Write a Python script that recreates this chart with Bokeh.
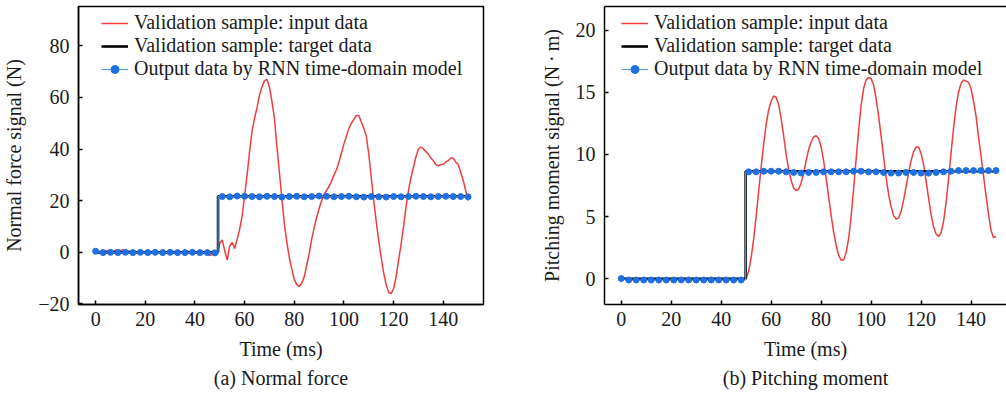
from bokeh.plotting import figure
from bokeh.layouts import row
from bokeh.models import Range1d, Legend, LegendItem, Title, FixedTicker, LinearAxis
from bokeh.embed import file_html
from bokeh.resources import INLINE

# ---------------- data ----------------
time_ms = list(range(151))
marker_time = list(range(0, 151, 3))

force_input = [
    0.3, 0.5, 0.2, 0.6, 0.4, 0.7, 0.5, 0.3, 0.8, 1.0,
    0.7, 0.9, 0.6, 0.4, 0.5, 0.2, 0.3, 0.1, 0.4, 0.3,
    0.2, 0.5, 0.3, 0.1, 0.4, 0.2, 0.3, 0.5, 0.2, 0.1,
    0.3, 0.4, 0.2, 0.0, 0.3, 0.1, 0.2, 0.4, 0.1, 0.0,
    0.2, -0.1, 0.1, 0.0, -0.2, -0.6, -1.2, -0.8, -1.1, -0.4,
    3.5, 4.8, 0.5, -3.0, 2.5, 3.8, 1.5, 5.0, 9.0, 14.0,
    22, 30, 39, 47, 52, 56, 61, 64, 66.5, 67,
    64, 58.5, 52, 41, 31, 21, 11, 4, -2, -6.5,
    -10.5, -12.5, -13.2, -12, -9.5, -5, -0.5, 5, 9.5, 13.5,
    17, 20, 22.5, 24, 25.5, 27.5, 30, 32, 35, 38.5,
    42, 45, 48, 50, 51.5, 53, 53, 50.5, 48, 45,
    38, 29, 20, 12, 4.5, -2, -8, -12.5, -15.5, -16,
    -14, -9.5, -3, 3, 10, 17.5, 24, 29, 33, 37,
    40, 40.8, 40, 39, 38, 36.5, 35.5, 34, 33.5, 34,
    34, 35, 35.5, 36.5, 36.5, 35, 34, 31, 28, 24,
    20,
]

moment_input = [
    0.0, -0.05, 0.0, -0.05, -0.1, -0.05, 0.0, -0.05, -0.1, -0.05,
    0.0, -0.05, -0.1, -0.05, 0.0, -0.05, -0.1, -0.05, 0.0, -0.05,
    -0.1, -0.05, 0.0, -0.05, -0.1, -0.05, 0.0, -0.05, -0.1, -0.05,
    0.0, -0.05, -0.1, -0.05, 0.0, -0.05, -0.1, -0.05, 0.0, -0.05,
    -0.1, -0.05, 0.0, -0.05, -0.1, -0.05, 0.0, -0.05, -0.1, -0.05,
    0.0, 0.6, 1.7, 3.2, 5.0, 7.0, 9.0, 10.8, 12.4, 13.6,
    14.3, 14.7, 14.6, 14.0, 12.9, 11.5, 10.0, 8.8, 7.9, 7.3,
    7.1, 7.2, 7.7, 8.5, 9.5, 10.4, 11.0, 11.4, 11.5, 11.3,
    10.6, 9.5, 8.1, 6.6, 5.1, 3.8, 2.7, 1.9, 1.5, 1.5,
    2.1, 3.2, 5.0, 7.2, 9.6, 11.9, 13.9, 15.3, 16.0, 16.2,
    16.1, 15.6, 14.5, 13.1, 11.5, 9.8, 8.2, 6.8, 5.8, 5.1,
    4.8, 4.9, 5.4, 6.3, 7.4, 8.5, 9.5, 10.2, 10.6, 10.6,
    10.1, 9.2, 7.9, 6.5, 5.2, 4.2, 3.6, 3.4, 3.7, 4.6,
    6.1, 8.0, 10.1, 12.1, 13.8, 15.0, 15.7, 16.0, 15.9, 15.8,
    15.3, 14.3, 13.1, 11.4, 9.9, 8.3, 6.7, 5.2, 3.9, 3.3,
    3.4,
]

force_output = [
    0.4, -0.1, 0.0, -0.1, 0.0, -0.1, 0.0, -0.1, 0.0, -0.1,
    0.0, -0.1, -0.1, 0.0, -0.1, -0.1, -0.2,
    21.6, 21.5, 21.8, 21.7, 21.6, 21.5, 21.7, 21.6, 21.4, 21.6,
    21.7, 21.5, 21.6, 21.8, 21.7, 21.5, 21.6, 21.7, 21.5, 21.4,
    21.6, 21.5, 21.4, 21.6, 21.5, 21.6, 21.7, 21.6, 21.5, 21.6,
    21.7, 21.6, 21.6, 21.5,
]

moment_output = [
    0.02, -0.1, -0.1, -0.1, -0.1, -0.1, -0.1, -0.1, -0.1, -0.1,
    -0.1, -0.1, -0.1, -0.1, -0.1, -0.1, -0.1,
    8.6, 8.6, 8.65, 8.65, 8.65, 8.6, 8.55, 8.5, 8.55, 8.55,
    8.6, 8.6, 8.6, 8.6, 8.65, 8.65, 8.6, 8.6, 8.55, 8.5,
    8.5, 8.55, 8.55, 8.5, 8.5, 8.55, 8.6, 8.65, 8.7, 8.7,
    8.7, 8.7, 8.7, 8.7,
]

force_step_time = 49.3
force_target_level = 21.7
moment_step_time = 49.8
moment_target_level = 8.65

x_ticks = [0, 20, 40, 60, 80, 100, 120, 140]
force_ticks = [-20, 0, 20, 40, 60, 80]
moment_ticks = [0, 5, 10, 15, 20]

FONT = "Liberation Serif"
RED = "#f03c3c"
BLUE_LINE = "#5b9ae6"
BLUE_DOT = "#1f6fe0"
TXT = "#1a1a1a"


def panel(width, left, right, top, bottom, xr, yr, yticks, ylabel, caption,
          inp, out, step_t, level, legend_x, legend_y, full_outline):
    p = figure(width=width, height=394, output_backend="svg", toolbar_location=None,
               x_range=Range1d(*xr), y_range=Range1d(*yr),
               min_border_left=left, min_border_right=right,
               min_border_top=top, min_border_bottom=bottom)
    p.xgrid.visible = False
    p.ygrid.visible = False
    p.background_fill_color = "white"
    p.border_fill_color = "white"

    xax = p.below[0]
    yax = p.left[0]
    for ax, ticks in ((xax, x_ticks), (yax, yticks)):
        ax.ticker = FixedTicker(ticks=ticks)
        ax.axis_line_width = 1.5
        ax.axis_line_color = "black"
        ax.major_tick_in = 4
        ax.major_tick_out = 0
        ax.major_tick_line_width = 1.5
        ax.minor_tick_line_color = None
        ax.major_label_text_font = FONT
        ax.major_label_text_font_size = "20px"
        ax.major_label_text_color = TXT
        ax.axis_label_text_font = FONT
        ax.axis_label_text_font_size = "20px"
        ax.axis_label_text_font_style = "normal"
        ax.axis_label_text_color = TXT
    xax.axis_label = "Time (ms)"
    xax.major_label_standoff = 7
    xax.axis_label_standoff = 9
    yax.axis_label = ylabel
    yax.major_label_standoff = 9
    yax.axis_label_standoff = 10

    if full_outline:
        p.outline_line_color = "black"
        p.outline_line_width = 1.5
    else:
        p.outline_line_color = None
        top_axis = LinearAxis(ticker=FixedTicker(ticks=[]), axis_line_width=1.5,
                              axis_line_color="black", major_tick_line_color=None,
                              minor_tick_line_color=None,
                              major_label_text_font_size="0px")
        p.add_layout(top_axis, "above")

    cap = Title(text=caption, align="center", text_font=FONT, text_font_size="20px",
                text_font_style="normal", text_color=TXT, standoff=5)
    p.add_layout(cap, "below")

    # target step
    tgt_t = [time_ms[0], step_t, step_t, time_ms[-1]]
    tgt_v = [0, 0, level, level]
    # output line, with the jump at the target step
    n_pre = sum(1 for t in marker_time if t < step_t)
    line_t = marker_time[:n_pre] + [step_t, step_t] + marker_time[n_pre:]
    line_v = out[:n_pre] + [out[n_pre - 1], out[n_pre]] + out[n_pre:]

    r_in = p.line(time_ms, inp, line_color=RED, line_width=1.5)
    r_tg = p.line(tgt_t, tgt_v, line_color="black", line_width=2.6)
    r_ol = p.line(line_t, line_v, line_color=BLUE_LINE, line_width=1.2)
    r_od = p.scatter(marker_time, out, marker="circle", size=6,
                     fill_color=BLUE_DOT, line_color=BLUE_DOT)

    legend = Legend(items=[
        LegendItem(label="Validation sample: input data", renderers=[r_in]),
        LegendItem(label="Validation sample: target data", renderers=[r_tg]),
        LegendItem(label="Output data by RNN time-domain model", renderers=[r_ol, r_od]),
    ], location=(legend_x, legend_y))
    legend.border_line_color = None
    legend.background_fill_alpha = 0
    legend.label_text_font = FONT
    legend.label_text_font_size = "20px"
    legend.label_text_color = TXT
    legend.glyph_width = 27
    legend.glyph_height = 20
    legend.label_height = 20
    legend.label_standoff = 6
    legend.spacing = -2
    legend.padding = 0
    legend.margin = 0
    p.add_layout(legend)
    return p


p1 = panel(500, 77, 17, 5, 89, (-6.9, 156.2), (-20.2, 95.2), force_ticks,
           "Normal force signal (N)", "(a) Normal force",
           force_input, force_output, force_step_time, force_target_level,
           23, 224, True)
p2 = panel(506, 104, 0, 6, 90, (-6.7, 154.2), (-2.07, 21.9), moment_ticks,
           "Pitching moment signal (N\u2009\u00b7\u2009m)", "(b) Pitching moment",
           moment_input, moment_output, moment_step_time, moment_target_level,
           17, 224, False)

layout = row(p1, p2)
open("out.html", "w").write(file_html(layout, INLINE))
